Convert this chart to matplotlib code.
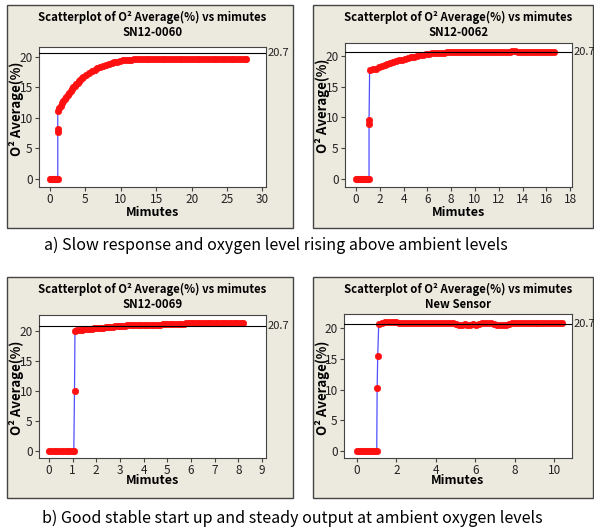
import matplotlib
matplotlib.use("Agg")
import matplotlib.pyplot as plt
from matplotlib.patches import Rectangle

# ---- data (minutes, O2 average %) ----
t_0060 = [0, 0.1, 0.2, 0.3, 0.4, 0.5, 0.6, 0.7, 0.8, 0.9, 1.0, 1.1,
          1.1, 1.1,
          1.1, 1.3, 1.5, 1.7, 1.9, 2.1, 2.3, 2.5, 2.7, 2.9, 3.1, 3.3, 3.5, 3.7, 3.9,
          4.1, 4.3, 4.5, 4.7,
          5.1, 5.5, 5.9, 6.3, 6.7, 7.1, 7.5, 7.9, 8.3, 8.7, 9.1, 9.5, 9.9, 10.3,
          10.7, 11.1, 11.5, 11.9, 12.3, 12.7, 13.1,
          13.5, 13.9, 14.3, 14.7, 15.1, 15.5, 15.9, 16.3, 16.7, 17.1,
          17.5, 17.9, 18.3, 18.7, 19.1, 19.5, 19.9, 20.3, 20.7, 21.1,
          21.5, 21.9, 22.3, 22.7, 23.1, 23.5, 23.9, 24.3, 24.7, 25.1,
          25.5, 25.9, 26.3, 26.7, 27.1, 27.5, 27.7]
o2_0060 = [0, 0, 0, 0, 0, 0, 0, 0, 0, 0, 0, 0,
           7.7, 8.2,
           11.1, 11.6, 12.0, 12.4, 12.8, 13.1, 13.5, 13.8, 14.1, 14.4, 14.7, 15.0, 15.25, 15.5, 15.75,
           16.0, 16.25, 16.5, 16.7,
           17.0, 17.3, 17.6, 17.9, 18.1, 18.3, 18.5, 18.7, 18.9, 19.0, 19.1, 19.2, 19.3, 19.4,
           19.45, 19.5, 19.55, 19.6, 19.6, 19.65, 19.7,
           19.7, 19.7, 19.7, 19.7, 19.7, 19.7, 19.7, 19.7, 19.7, 19.7,
           19.7, 19.7, 19.7, 19.7, 19.7, 19.7, 19.7, 19.7, 19.7, 19.7,
           19.7, 19.7, 19.7, 19.7, 19.7, 19.7, 19.7, 19.7, 19.7, 19.7,
           19.7, 19.7, 19.7, 19.7, 19.7, 19.7, 19.7]

t_0062 = [0, 0.1, 0.2, 0.3, 0.4, 0.5, 0.6, 0.7, 0.8, 0.9, 1.0, 1.1,
          1.1, 1.1,
          1.15, 1.4, 1.65, 1.9, 2.15, 2.4, 2.65, 2.9, 3.15, 3.4, 3.65, 3.9, 4.15, 4.4,
          4.65, 4.9, 5.15, 5.4, 5.65, 5.9,
          6.15, 6.4, 6.65, 6.9, 7.15, 7.4, 7.65, 7.9, 8.15, 8.4, 8.65, 8.9,
          9.15, 9.4, 9.65, 9.9, 10.15, 10.4, 10.65, 10.9, 11.15, 11.4, 11.65, 11.9,
          12.15, 12.4, 12.65, 12.9,
          13.15, 13.4, 13.65,
          13.9, 14.15, 14.4, 14.65, 14.9, 15.15, 15.4, 15.65, 15.9, 16.15, 16.4, 16.6]
o2_0062 = [0, 0, 0, 0, 0, 0, 0, 0, 0, 0, 0, 0,
           9.0, 9.6,
           17.7, 17.8, 17.95, 18.2, 18.35, 18.5, 18.7, 18.9, 19.0, 19.15, 19.3, 19.4, 19.55, 19.65,
           19.8, 19.9, 20.0, 20.1, 20.2, 20.3,
           20.35, 20.4, 20.45, 20.5, 20.5, 20.55, 20.6, 20.6, 20.6, 20.65, 20.65, 20.65,
           20.7, 20.7, 20.7, 20.7, 20.7, 20.7, 20.7, 20.7, 20.7, 20.7, 20.7, 20.7,
           20.7, 20.7, 20.7, 20.7,
           20.75, 20.75, 20.7,
           20.6, 20.6, 20.6, 20.6, 20.6, 20.6, 20.6, 20.6, 20.6, 20.6, 20.6, 20.6]

t_0069 = [0, 0.1, 0.2, 0.3, 0.4, 0.5, 0.6, 0.7, 0.8, 0.9, 1.0, 1.05,
          1.08,
          1.1, 1.2, 1.3, 1.4, 1.5, 1.6, 1.7, 1.8, 1.9, 2.0,
          2.1, 2.2, 2.3, 2.4, 2.5, 2.6, 2.7, 2.8, 2.9, 3.0,
          3.1, 3.2, 3.3, 3.4, 3.5, 3.6, 3.7, 3.8, 3.9, 4.0,
          4.1, 4.2, 4.3, 4.4, 4.5, 4.6, 4.7, 4.8, 4.9, 5.0,
          5.1, 5.2, 5.3, 5.4, 5.5, 5.6, 5.7,
          5.8, 5.9, 6.0, 6.1, 6.2, 6.3, 6.4, 6.5, 6.6, 6.7, 6.8, 6.9, 7.0,
          7.1, 7.2, 7.3, 7.4, 7.5, 7.6, 7.7, 7.8, 7.9, 8.0, 8.1, 8.2]
o2_0069 = [0, 0, 0, 0, 0, 0, 0, 0, 0, 0, 0, 0,
           10.0,
           20.0, 20.08, 20.14, 20.18, 20.22, 20.26, 20.3, 20.34, 20.37, 20.4,
           20.44, 20.48, 20.52, 20.56, 20.6, 20.64, 20.68, 20.72, 20.76, 20.8,
           20.82, 20.84, 20.86, 20.88, 20.9, 20.91, 20.92, 20.93, 20.94, 20.95,
           20.96, 20.97, 20.98, 20.99, 21.0, 21.01, 21.02, 21.03, 21.04, 21.05,
           21.06, 21.08, 21.1, 21.12, 21.14, 21.16, 21.18,
           21.2, 21.2, 21.2, 21.2, 21.2, 21.2, 21.2, 21.2, 21.2, 21.2, 21.2, 21.2, 21.2,
           21.2, 21.2, 21.2, 21.2, 21.2, 21.2, 21.2, 21.2, 21.2, 21.2, 21.2, 21.2]

t_new = [0, 0.1, 0.2, 0.3, 0.4, 0.5, 0.6, 0.7, 0.8, 0.9, 1.0,
         1.02, 1.05,
         1.1, 1.25, 1.4, 1.55, 1.7, 1.85, 2.0, 2.15, 2.3, 2.45,
         2.6, 2.75, 2.9, 3.05, 3.2, 3.35, 3.5, 3.65, 3.8, 3.95, 4.1, 4.25, 4.4, 4.55, 4.7, 4.85,
         5.0, 5.15, 5.3, 5.45, 5.6, 5.75, 5.9, 6.05, 6.2, 6.35,
         6.5, 6.65, 6.8, 6.95, 7.1, 7.25, 7.4, 7.55, 7.7, 7.85,
         8.0, 8.15, 8.3, 8.45, 8.6, 8.75, 8.9, 9.05, 9.2, 9.35, 9.5, 9.65, 9.8, 9.95,
         10.1, 10.25, 10.4]
o2_new = [0, 0, 0, 0, 0, 0, 0, 0, 0, 0, 0,
          10.2, 15.5,
          20.6, 20.85, 20.95, 21.0, 21.0, 21.0, 21.0, 20.9, 20.8, 20.8,
          20.8, 20.8, 20.8, 20.8, 20.8, 20.8, 20.8, 20.8, 20.8, 20.8, 20.8, 20.8, 20.8, 20.8, 20.8, 20.8,
          20.7, 20.55, 20.55, 20.7, 20.55, 20.55, 20.6, 20.55, 20.75, 20.8,
          20.8, 20.8, 20.8, 20.75, 20.55, 20.55, 20.55, 20.55, 20.7, 20.8,
          20.8, 20.8, 20.8, 20.8, 20.8, 20.8, 20.8, 20.8, 20.8, 20.8, 20.8, 20.8, 20.8, 20.8,
          20.8, 20.8, 20.8]

sensors = ["SN12-0060", "SN12-0062", "SN12-0069", "New Sensor"]
times = [t_0060, t_0062, t_0069, t_new]
values = [o2_0060, o2_0062, o2_0069, o2_new]
xticks = [range(0, 31, 5), range(0, 19, 2), range(0, 10, 1), range(0, 11, 2)]
ambient = 20.7

captions = ["a) Slow response and oxygen level rising above ambient levels",
            "b) Good stable start up and steady output at ambient oxygen levels"]

# ---- layout in pixels ----
W, H = 594, 531
fig = plt.figure(figsize=(W / 100, H / 100), dpi=100)
fig.patch.set_facecolor("white")

def fx(px):
    return px / W

def fy(py):
    return 1 - py / H

frames = [(7, 5, 293, 228), (313, 5, 593, 228), (7, 277, 293, 498), (313, 277, 593, 498)]
boxes = [(39, 47, 266, 187), (345, 43, 572, 187), (39, 315, 266, 458), (344, 314, 572, 458)]
xlims = [(-1.55, 30.5), (-0.92, 18.15), (-0.42, 9.17), (-0.66, 10.9)]
ylims = [(-1.3, 21.6), (-1.3, 22.1), (-1.17, 22.6), (-1.14, 22.3)]
xlab_y = [212, 212, 481, 481]
ylab_y = [109, 106, 388, 388]

font = ["Noto Sans CJK KR", "DejaVu Sans"]
beige = "#ECE9DE"

for i in range(4):
    l, t, r, b = frames[i]
    fig.patches.append(Rectangle((fx(l), fy(b)), fx(r - l), (b - t) / H,
                                 transform=fig.transFigure, facecolor=beige,
                                 edgecolor="#444444", lw=1.0, zorder=-10))
    l, t, r, b = boxes[i]
    ax = fig.add_axes([fx(l), fy(b), fx(r - l), (b - t) / H])
    ax.set_facecolor("white")
    ax.plot(times[i], values[i], color="#5050FF", lw=0.9, zorder=2)
    ax.plot(times[i], values[i], ls="none", marker="o", ms=4.6,
            color="#FF1010", mec="#FF1010", mew=0.5, zorder=3)
    ax.axhline(ambient, color="black", lw=0.8, zorder=4)
    ax.set_xlim(*xlims[i])
    ax.set_ylim(*ylims[i])
    ax.set_xticks(list(xticks[i]))
    ax.set_yticks([0, 5, 10, 15, 20])
    ax.tick_params(direction="out", length=3, width=0.8, color="#444444",
                   labelsize=8.5, pad=1.5)
    for lab in ax.get_xticklabels() + ax.get_yticklabels():
        lab.set_family(font)
        lab.set_color("#222222")
    for s in ax.spines.values():
        s.set_color("#444444")
        s.set_linewidth(0.8)
    ax.text(1.008, ambient, "20.7", transform=ax.get_yaxis_transform(),
            ha="left", va="center", fontsize=8, family=font, color="#222222")
    cx = (l + r) / 2
    fig.text(fx(cx), fy(frames[i][1] + 12), "Scatterplot of O\u00b2 Average(%) vs mimutes",
             ha="center", va="center", fontsize=8.2, fontweight="bold", family=font)
    fig.text(fx(cx), fy(frames[i][1] + 28), sensors[i],
             ha="center", va="center", fontsize=8.2, fontweight="bold", family=font)
    fig.text(fx(cx), fy(xlab_y[i]), "Mimutes", ha="center", va="center",
             fontsize=9, fontweight="bold", family=font)
    fig.text(fx(l - 22), fy(ylab_y[i]), "O\u00b2 Average(%)", ha="center", va="center",
             rotation=90, fontsize=9.5, fontweight="bold", family=font)

fig.text(fx(276), fy(245), captions[0], ha="center", va="center", fontsize=11.5,
         family=font)
fig.text(fx(292), fy(518), captions[1], ha="center", va="center", fontsize=11.5,
         family=font)

fig.savefig("out.png", dpi=100)
